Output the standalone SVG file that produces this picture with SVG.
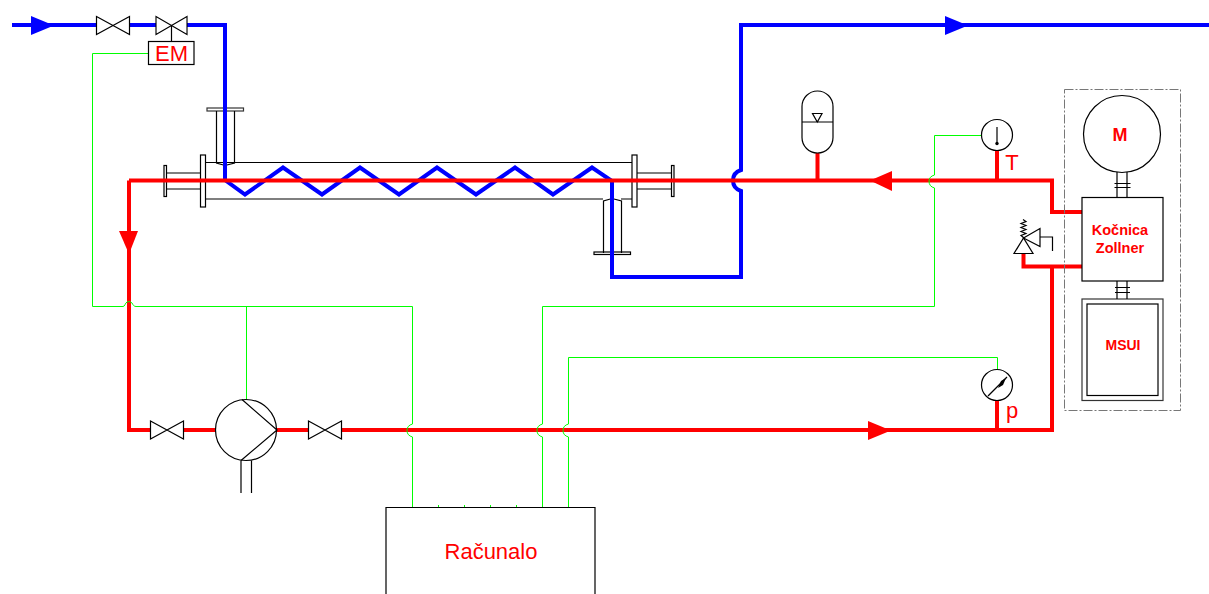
<svg xmlns="http://www.w3.org/2000/svg" width="1209" height="594" viewBox="0 0 1209 594">
<style>
.k{fill:none;stroke:#000;stroke-width:1.2}
.w{fill:#fff;stroke:#000;stroke-width:1.2}
.b{fill:none;stroke:#00f;stroke-width:4}
.r{fill:none;stroke:#f00;stroke-width:4}
.g{fill:none;stroke:#0f0;stroke-width:1}
.t{fill:#f00;font-family:"Liberation Sans",Arial,sans-serif}
.bd{font-weight:bold;text-anchor:middle}
</style>
<defs>
<path id="valve" class="k" d="M0,-9 L33,9 L33,-9 L0,9 Z"/>
</defs>
<g id="exchanger">
<path class="k" d="M206,162.500H632M206,199H603M621,199H632"/>
<path class="k" d="M216.500,111V163L225,165.500L234.500,163V111"/>
<path class="k" d="M603.500,253V201L612,198.500L621.500,201V253"/>
<rect class="k" x="207" y="108" width="36.500" height="3" stroke-opacity=".8"/>
<rect class="k" x="594" y="252" width="36.500" height="2.500"/>
<rect class="k" x="200.500" y="155" width="5" height="52"/>
<rect class="k" x="632" y="155" width="5" height="52"/>
<path class="k" d="M166.500,173H200.500M166.500,189H200.500M637,173H671M637,189H671"/>
<rect class="k" x="164" y="165.500" width="2.500" height="31"/>
<rect class="k" x="671.500" y="165.500" width="2.500" height="31"/>
</g>
<g id="connectors">
<path class="b" d="M12,25H96M129,25H156M187,25H225V180L245,194.500L283,167.500L322,194.500L360,167.500L399,194.500L437,167.500L476,194.500L515,167.500L553,194.500L592,167.500L612,181V277H741V191C735,189 733,185 733,180.500C733,176 735,172 741,170V25H1209"/>
<path class="r" d="M129,180.500H1052V212H1083M129,180.500V430H150M183,430H216M277,430H308M342,430H1052V267M1083,266.500H1023.500V252"/>
<path class="r" d="M817.500,180V153M997,180V150M997,430V400"/>
<path class="g" d="M148,53.500H92.500V306.500H123C125,306.500 125,303 127,302C129,301 131,302 132,303C133,305 134,306.500 136,306.500H412.500V424C409,425 407,427 407,430.500C407,434 409,436 412.500,437V507"/>
<path class="g" d="M246.500,306.500V399"/>
<path class="g" d="M981,135.500H934.500V175C931,176 929,178 929,181C929,185 931,187 934.500,188V306.500H542.500V424C539,425 537,427 537,430.500C537,434 539,436 542.500,437V507"/>
<path class="g" d="M997.500,370V357.500H568.500V424C565,425 563,427 563,430.500C563,434 565,436 568.500,437V507"/>
<path class="g" d="M438.500,505V507M464.500,505V507M490.500,505V507M516.500,505V507"/>
<path fill="#00f" d="M31,16L54,25.500L31,35Z"/>
<path fill="#00f" d="M945,16L968,25.500L945,35Z"/>
<path fill="#f00" d="M892,171L870,180.500L892,191Z"/>
<path fill="#f00" d="M119,231H138L129,254Z"/>
<path fill="#f00" d="M868,421L891,430.500L868,440Z"/>
</g>
<g id="valve1"><use href="#valve" x="96.500" y="25.500"/></g>
<g id="valve2"><use href="#valve" x="156" y="25.500" transform="translate(156 25.500) scale(.94 1) translate(-156 -25.500)"/><path class="k" d="M171.500,25V41"/></g>
<g id="em">
<rect class="w" x="148.500" y="41.500" width="45.500" height="23"/>
<text class="t" x="171.500" y="61" font-size="22" text-anchor="middle">EM</text>
</g>
<g id="tank">
<rect class="k" x="802" y="91" width="31" height="62" rx="15.500"/>
<path class="k" d="M802,122H833M812.500,113.500H822L817.300,122Z"/>
</g>
<g id="thermometer">
<circle class="w" cx="997" cy="135" r="15.500"/>
<path class="k" d="M997,127V143"/>
<circle cx="997" cy="143.500" r="1.700"/>
<text class="t" x="1012" y="170" font-size="22" text-anchor="middle">T</text>
</g>
<g id="manometer">
<circle class="w" cx="997" cy="385" r="15.500"/>
<path class="k" d="M988,396L1007,377"/>
<path d="M998,388L1001,381L1006,378L1003,385Z"/>
<text class="t" x="1012" y="418" font-size="22" text-anchor="middle">p</text>
</g>
<g id="pump">
<circle class="w" cx="246" cy="430" r="30.500"/>
<path class="k" d="M242,399.500L277,430L241,460.500"/>
<path class="k" d="M241,460.500V493M251.500,460.500V493"/>
</g>
<g id="valve3"><use href="#valve" x="150.500" y="430"/></g>
<g id="valve4"><use href="#valve" x="308.500" y="430"/></g>
<g id="racunalo">
<path class="k" d="M386,594V507.500H595V594"/>
<text class="t" x="491" y="559" font-size="22" text-anchor="middle">Računalo</text>
</g>
<g id="safety-valve">
<path class="w" d="M1023.500,238L1014,253.500H1033Z"/>
<path class="k" d="M1023.500,238L1040,228.500V246.500ZM1040,237H1052.500V251"/>
<path class="k" stroke-width=".8" d="M1023,219.500L1026,221.500L1021,223.500L1026,225.500L1021,227.500L1026,229.500L1021,231.500L1026,233.500L1021,235.500L1024,238"/>
</g>
<g id="assembly">
<rect x="1064.500" y="89.500" width="116" height="321" fill="none" stroke="#777" stroke-width="1" stroke-dasharray="9 2 2 2"/>
</g>
<g id="motor">
<circle class="w" cx="1122" cy="134" r="38.500"/>
<path class="k" d="M1117,172V197M1127,172V197M1114.500,183.500H1130.500M1114.500,187.500H1130.500"/>
<text class="t bd" x="1120" y="141" font-size="18">M</text>
</g>
<g id="kocnica">
<rect class="w" x="1082" y="197.500" width="81" height="83.500"/>
<text class="t bd" x="1120" y="235" font-size="14.500">Kočnica</text>
<text class="t bd" x="1120" y="253" font-size="14.500">Zollner</text>
</g>
<g id="msui">
<path class="k" d="M1117,281V299M1127,281V299M1115,287.500H1130M1115,292.500H1130"/>
<rect class="k" x="1082" y="299" width="81" height="101.500" stroke-opacity=".8"/>
<rect class="k" x="1087" y="304" width="71" height="91.500"/>
<text class="t bd" x="1123" y="350" font-size="14">MSUI</text>
</g>
</svg>
